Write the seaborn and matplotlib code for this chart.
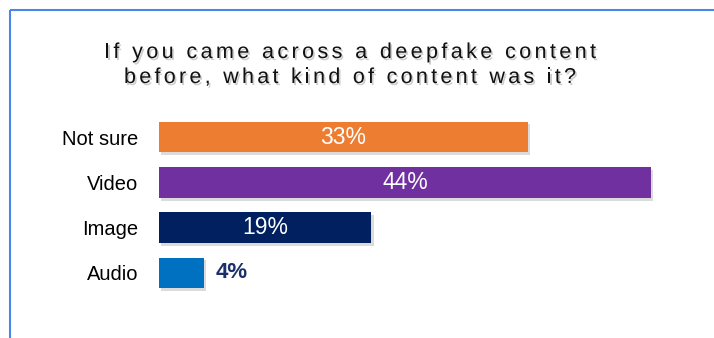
import numpy as np
import pandas as pd
import matplotlib
matplotlib.use("Agg")
import matplotlib.pyplot as plt
import seaborn as sns
from matplotlib import patheffects as pe
from matplotlib import font_manager
from matplotlib.ft2font import FT2Font
from matplotlib.lines import Line2D

# ---- data ----
categories = ["Not sure", "Video", "Image", "Audio"]
shares = [33, 44, 19, 4]
value_labels = ["33%", "44%", "19%", "4%"]
title_lines = ["If you came across a deepfake content",
               "before, what kind of content was it?"]
bar_colors = ["#ED7D31", "#7030A0", "#002060", "#0070C0"]

# ---- figure geometry (pixels) ----
W, H, DPI = 714, 338, 100
sns.set_theme(style="white")
plt.rcParams["font.family"] = ["Liberation Sans", "DejaVu Sans"]

fig = plt.figure(figsize=(W / DPI, H / DPI), dpi=DPI)
fig.patch.set_facecolor("white")

x0_px, px_per_unit, xmax = 159, 11.18, 48
row_px = 45.33
top_px = 137 - 0.5 * row_px
bottom_px = 273 + 0.5 * row_px
ax = fig.add_axes([x0_px / W, 1 - bottom_px / H,
                   xmax * px_per_unit / W, (bottom_px - top_px) / H])

df = pd.DataFrame({"category": categories, "share": shares})
sns.barplot(data=df, x="share", y="category", hue="category",
            order=categories, hue_order=categories, palette=bar_colors,
            saturation=1, orient="h", width=0.68, legend=False,
            linewidth=0, ax=ax)

for patch in ax.patches:
    patch.set_path_effects([
        pe.SimplePatchShadow(offset=(1.5, -2), shadow_rgbFace="#9a9a9a", alpha=0.35),
        pe.Normal(),
    ])

# value labels: inside long bars, beside short ones
for i, (v, lab) in enumerate(zip(shares, value_labels)):
    if v >= 10:
        ax.text(v / 2, i, lab, ha="center", va="center",
                color="white", fontsize=16.5)
    else:
        ax.annotate(lab, (v, i), xytext=(12 * 72 / DPI, 0),
                    textcoords="offset points", ha="left", va="center",
                    fontsize=16, fontweight="bold", color="#1B2F6B")

ax.set_xlim(0, xmax)
ax.set_ylim(3.5, -0.5)
ax.set_xticks([])
ax.set_yticks(range(len(categories)))
ax.set_yticklabels(categories, fontsize=14.5, color="black")
ax.tick_params(axis="y", length=0, pad=15)
ax.set_xlabel("")
ax.set_ylabel("")
for s in ax.spines.values():
    s.set_visible(False)
ax.patch.set_alpha(0)

# ---- title with wide letter spacing ----
title_size = 15.5
title_fp = font_manager.FontProperties(family="Liberation Sans", size=title_size)
ft = FT2Font(font_manager.findfont(title_fp))
ft.set_size(title_size, DPI)


def advances(s):
    return [ft.load_char(ord(c)).linearHoriAdvance / 65536 for c in s]


title_specs = [(title_lines[0], 58, 492), (title_lines[1], 83, 452)]
center_px = 350
for text, base_px, target_w in title_specs:
    adv = advances(text)
    natural = sum(adv)
    track = (target_w - natural) / (len(text) - 1)
    x = center_px - target_w / 2
    for c, a in zip(text, adv):
        if c != " ":
            fig.text(x / W, 1 - base_px / H, c, ha="left", va="baseline",
                     fontproperties=title_fp, color="#111111",
                     path_effects=[pe.withSimplePatchShadow(
                         offset=(1.2, -1.5), shadow_rgbFace="#909090", alpha=0.45)])
        x += a + track

# ---- frame lines ----
frame_color = "#4A86E8"
fig.add_artist(Line2D([10 / W, 10 / W], [0, 1 - 10 / H], transform=fig.transFigure,
                      color=frame_color, lw=1.5, solid_capstyle="butt"))
fig.add_artist(Line2D([10 / W, 1], [1 - 10 / H, 1 - 10 / H], transform=fig.transFigure,
                      color=frame_color, lw=1.5, solid_capstyle="butt"))

fig.savefig("out.png", dpi=DPI)
